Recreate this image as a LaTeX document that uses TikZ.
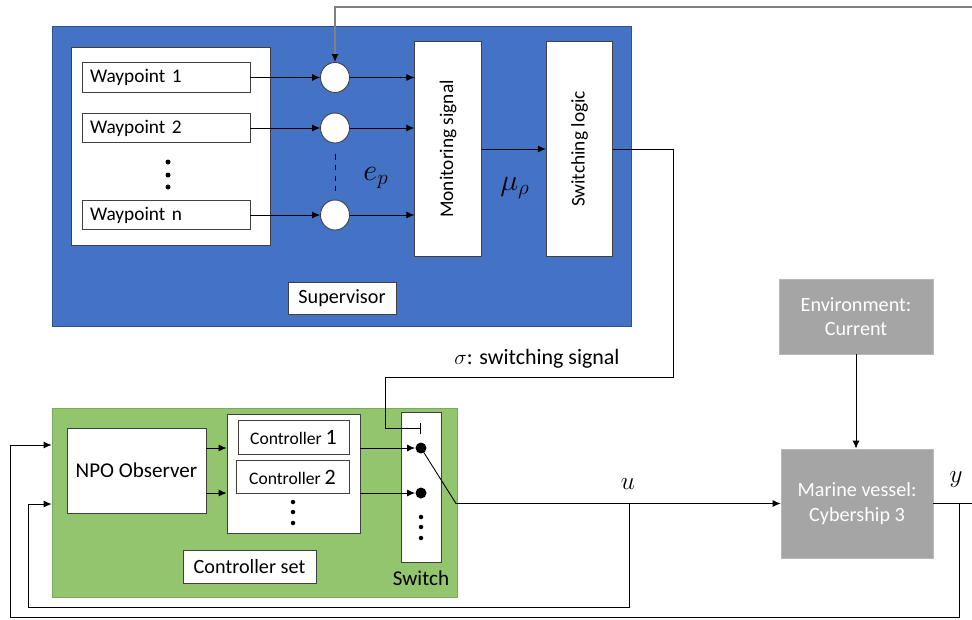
\documentclass[tikz,border=0pt]{standalone}
\usepackage{graphicx}
\usepackage{fontspec}
\setmainfont{Carlito}
\usetikzlibrary{arrows.meta,shapes.geometric}
\definecolor{supblue}{RGB}{68,114,196}
\definecolor{supedge}{RGB}{47,82,143}
\definecolor{ctrlgreen}{RGB}{147,196,110}
\definecolor{ctrledge}{RGB}{120,170,90}
\definecolor{plantgray}{RGB}{165,165,165}
\definecolor{plantedge}{RGB}{185,185,185}

\begin{document}
\begin{tikzpicture}[x=0.02cm,y=-0.02cm,line width=0.5pt,>={Latex[length=4.5pt,width=4pt]},
  wbox/.style={draw=black!75,fill=white,inner sep=0pt},
  wplabel/.style={wbox,minimum height=0.59cm,text width=3.04cm,inner xsep=0.16cm,align=left,font=\fontsize{11}{13}\selectfont},
  sumnode/.style={ellipse,draw=black!75,fill=white,minimum width=0.58cm,minimum height=0.6cm,inner sep=0pt},
  vbox/.style={wbox,minimum width=1.33cm,minimum height=4.3cm,font=\fontsize{11}{13}\selectfont},
  ctrlbox/.style={wbox,minimum height=0.67cm},
  graybox/.style={draw=plantedge,fill=plantgray,text=white,align=center,font=\fontsize{11.5}{14}\selectfont},
  bigdot/.style={circle,fill=black,inner sep=0pt,minimum size=0.22cm},
  mathlbl/.style={font=\fontsize{17}{19}\selectfont}]
  \useasboundingbox (0,0) rectangle (972,619);
  % Supervisor
  \node[draw=supedge,fill=supblue,minimum width=11.58cm,minimum height=6cm] (sup) at (341.5,176) {};
  \node[wbox,minimum width=3.98cm,minimum height=3.96cm] (wpset) at (170.5,146) {};
  \node[wplabel] (wp1) at (166,77.5) {Waypoint 1};
  \node[wplabel] (wp2) at (166,128) {Waypoint 2};
  \node[wplabel] (wpn) at (166,215) {Waypoint n};
  \foreach \y in {162,175,187} \fill (168,\y) circle (0.05cm);
  \node[sumnode] (s1) at (335,77.5) {};
  \node[sumnode] (s2) at (335,128) {};
  \node[sumnode] (sn) at (335,215) {};
  \node[vbox] (mon) at (448,149) {\rotatebox{90}{Monitoring signal}};
  \node[vbox] (swl) at (579.5,149) {\rotatebox{90}{Switching logic}};
  \node[wbox,minimum width=2.16cm,minimum height=0.64cm,font=\fontsize{11.5}{13}\selectfont] (suplbl) at (342,298) {Supervisor};
  \node[mathlbl] (ep) at (376,178) {$e_p$};
  \node[mathlbl] (murho) at (515,188) {$\mu_\rho$};
  \foreach \w/\s in {wp1/s1,wp2/s2,wpn/sn} {
    \draw[->] (\w) -- (\s);
    \draw[->] (\s) -- (\s -| mon.west);
  }
  \draw[dashed,line width=0.4pt] ([yshift=-0.22cm]s2.south) -- ([yshift=0.1cm]sn.north);
  \draw[->] (mon) -- (swl);
  % feedback into the supervisor
  \coordinate (ytop) at (972,7);
  \draw[black!50,line width=1pt,-{Latex[length=4.5pt,width=4pt,black]}] (ytop) -- (ytop -| s1) -- (s1.north);
  % Controller set
  \node[draw=ctrledge,fill=ctrlgreen,minimum width=8.1cm,minimum height=3.78cm] (ctrl) at (254.5,502.5) {};
  \node[wbox,minimum width=2.78cm,minimum height=1.7cm,font=\fontsize{12}{14}\selectfont] (npo) at (136.5,470.5) {NPO Observer};
  \node[wbox,minimum width=2.66cm,minimum height=2.38cm] (cbank) at (293.5,473.5) {};
  \node[ctrlbox,minimum width=2.22cm] (c1) at (293.5,437.5) {\fontsize{10}{12}\selectfont Controller \fontsize{12.5}{14}\selectfont 1};
  \node[ctrlbox,minimum width=2.26cm] (c2) at (292.5,477) {\fontsize{10}{12}\selectfont Controller \fontsize{12.5}{14}\selectfont 2};
  \foreach \y in {502,512,523} \fill (293,\y) circle (0.045cm);
  \node[wbox,minimum width=0.8cm,minimum height=3cm] (swbox) at (421,487) {};
  \node[bigdot] (k1) at (421,448) {};
  \node[bigdot] (k2) at (421,493) {};
  \foreach \y in {517,527,538} \fill (421,\y) circle (0.045cm);
  \node[font=\fontsize{12}{14}\selectfont] (swlbl) at (421,578) {Switch};
  \node[wbox,minimum width=2.66cm,minimum height=0.66cm,font=\fontsize{11.5}{13}\selectfont] (ctrllbl) at (249.5,566.5) {Controller set};
  \draw[->] (npo.east |- k1) -- (cbank.west |- k1);
  \draw[->] (npo.east |- k2) -- (cbank.west |- k2);
  \draw[->] (cbank.east |- k1) -- (k1.west);
  \draw[->] (cbank.east |- k2) -- (k2.west);
  % switching signal
  \coordinate (sigR) at (673,377);
  \coordinate (sigL) at (385,377);
  \coordinate (tee) at (421,428);
  \draw[-{Bar[width=0.22cm]}] (swl.east) -- (swl.east -| sigR) -- (sigR) -- (sigL) |- (tee);
  \node[font=\fontsize{12.5}{14}\selectfont] (siglbl) at (537,359) {$\sigma$: switching signal};
  % Plant
  \node[graybox,minimum width=3.08cm,minimum height=1.5cm] (env) at (856,316.5) {Environment:\\Current};
  \node[graybox,minimum width=3.04cm,minimum height=2.18cm] (ves) at (857,503.5) {Marine vessel:\\Cybership 3};
  \draw[->] (env.south) -- (env.south |- ves.north);
  \coordinate (lev) at (456,503.5);
  \draw[->] (k1.center) -- (lev) -- (ves.west |- lev);
  \node[font=\fontsize{14}{16}\selectfont] (ulbl) at (628,484) {$u$};
  \node[font=\fontsize{14}{16}\selectfont] (ylbl) at (956,480) {$y$};
  % feedback loops
  \coordinate (ub) at (629,503.5);
  \coordinate (ucorner) at (28,607);
  \draw[->] (ub) |- (ucorner) |- (ctrl.west |- 0,504);
  \coordinate (yout) at (972,503.5);
  \draw (ves.east) -- (yout);
  \coordinate (yb) at (959,503.5);
  \coordinate (ycorner) at (10,617.5);
  \draw[->] (yb) |- (ycorner) |- (ctrl.west |- 0,445);
\end{tikzpicture}
\end{document}
